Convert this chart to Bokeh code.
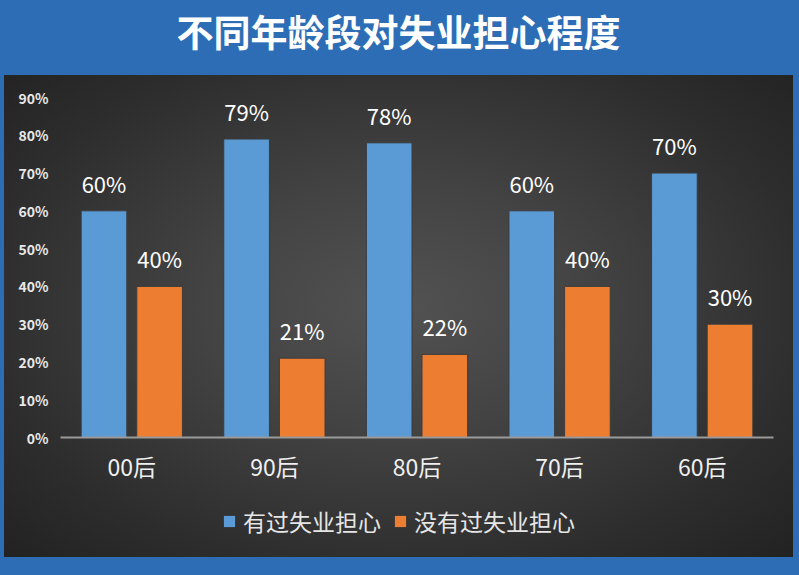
from bokeh.plotting import figure
from bokeh.layouts import column
from bokeh.models import (ColumnDataSource, FactorRange, NumeralTickFormatter, Legend,
                          LegendItem, FixedTicker, Label)
from bokeh.transform import dodge
from bokeh.core.properties import value
from bokeh.embed import file_html
from bokeh.resources import INLINE

title = "不同年龄段对失业担心程度"
categories = ["00后", "90后", "80后", "70后", "60后"]
worried = [0.60, 0.79, 0.78, 0.60, 0.70]
not_worried = [0.40, 0.21, 0.22, 0.40, 0.30]
series_names = ["有过失业担心", "没有过失业担心"]
y_ticks = [0.0, 0.1, 0.2, 0.3, 0.4, 0.5, 0.6, 0.7, 0.8, 0.9]

src = ColumnDataSource(dict(
    cat=categories,
    worried=worried,
    not_worried=not_worried,
    worried_lbl=[f"{round(v*100)}%" for v in worried],
    not_worried_lbl=[f"{round(v*100)}%" for v in not_worried],
))

W, H = 799, 575
TITLE_H = 75
MAIN_H = 417
LEG_H = H - TITLE_H - MAIN_H
FL, FR = 60, 26           # left / right borders of the plotting frame
BLUE_BG = "#2d6db5"
BLUE = "#5b9bd5"
ORANGE = "#ed7d31"
FONT = "Noto Sans CJK SC"

# ---- title strip (on the blue band) ----
pt = figure(width=W, height=TITLE_H, x_axis_location=None, y_axis_location=None,
            x_range=(FL, W - FR), y_range=(TITLE_H, 0),
            output_backend="svg", toolbar_location=None,
            min_border_left=FL, min_border_right=FR, min_border_top=0, min_border_bottom=0)
pt.border_fill_alpha = 0
pt.background_fill_alpha = 0
pt.outline_line_color = None
pt.grid.visible = False
pt.add_layout(Label(x=398, y=30, text=title, text_color="white", text_font=FONT,
                    text_font_style="bold", text_font_size="37px",
                    text_align="center", text_baseline="middle"))

# ---- main chart ----
p = figure(width=W, height=MAIN_H, x_range=FactorRange(*categories, range_padding=0),
           y_range=(0, 0.9), output_backend="svg", toolbar_location=None,
           min_border_left=FL, min_border_right=FR, min_border_top=22,
           min_border_bottom=55)
p.border_fill_alpha = 0
p.background_fill_alpha = 0
p.outline_line_color = None
p.xgrid.visible = False
p.ygrid.visible = False

r1 = p.vbar(x=dodge("cat", -0.195, range=p.x_range), top="worried", width=0.32, source=src,
            fill_color=BLUE, line_color="#3c3c3c", line_width=1)
r2 = p.vbar(x=dodge("cat", 0.195, range=p.x_range), top="not_worried", width=0.32, source=src,
            fill_color=ORANGE, line_color="#3c3c3c", line_width=1)

for col, lbl, off in [("worried", "worried_lbl", -0.195), ("not_worried", "not_worried_lbl", 0.195)]:
    p.text(x=dodge("cat", off, range=p.x_range), y=col, text=lbl, source=src,
           text_color="white", text_font=value(FONT), text_font_size="22px",
           text_align="center", text_baseline="bottom", y_offset=-12)

p.yaxis.ticker = FixedTicker(ticks=y_ticks)
p.yaxis.formatter = NumeralTickFormatter(format="0%")
p.yaxis.axis_line_color = None
p.yaxis.major_tick_line_color = None
p.yaxis.minor_tick_line_color = None
p.yaxis.major_tick_out = 0
p.yaxis.major_tick_in = 0
p.yaxis.major_label_text_color = "#e8e8e8"
p.yaxis.major_label_text_font = FONT
p.yaxis.major_label_text_font_style = "bold"
p.yaxis.major_label_text_font_size = "14px"
p.yaxis.major_label_standoff = 12

p.xaxis.axis_line_color = "#9a9a9a"
p.xaxis.axis_line_width = 2
p.xaxis.major_tick_line_color = None
p.xaxis.minor_tick_line_color = None
p.xaxis.major_tick_out = 0
p.xaxis.major_tick_in = 0
p.xaxis.major_label_text_color = "#f0f0f0"
p.xaxis.major_label_text_font = FONT
p.xaxis.major_label_text_font_size = "23px"
p.xaxis.major_label_standoff = 11

# ---- legend strip below the chart ----
pl = figure(width=W, height=LEG_H, x_axis_location=None, y_axis_location=None,
            x_range=(0, 1), y_range=(0, 1),
            output_backend="svg", toolbar_location=None,
            min_border_left=FL, min_border_right=FR, min_border_top=0, min_border_bottom=0)
pl.border_fill_alpha = 0
pl.background_fill_alpha = 0
pl.outline_line_color = None
pl.grid.visible = False
lr1 = pl.vbar(x=[0.5], top=[0], bottom=[0], width=0, fill_color=BLUE, line_color=None)
lr2 = pl.vbar(x=[0.5], top=[0], bottom=[0], width=0, fill_color=ORANGE, line_color=None)
legend = Legend(items=[LegendItem(label=series_names[0], renderers=[lr1]),
                       LegendItem(label=series_names[1], renderers=[lr2])],
                orientation="horizontal", location=(162, 37),
                background_fill_alpha=0, border_line_color=None,
                label_text_color="#e6e6e6", label_text_font=FONT,
                label_text_font_size="23px", glyph_width=14, glyph_height=14,
                spacing=12, label_standoff=7, margin=0, padding=0)
pl.add_layout(legend)

layout = column(pt, p, pl, spacing=0, styles={
    "background-color": BLUE_BG,
    "background-image": "radial-gradient(ellipse farthest-corner at 50% 48%, #525252 0%, #434343 35%, #2d2d2d 75%, #222222 100%)",
    "background-size": "789px 482px",
    "background-position": "4px 75px",
    "background-repeat": "no-repeat",
})

open("out.html", "w").write(file_html(layout, INLINE))
